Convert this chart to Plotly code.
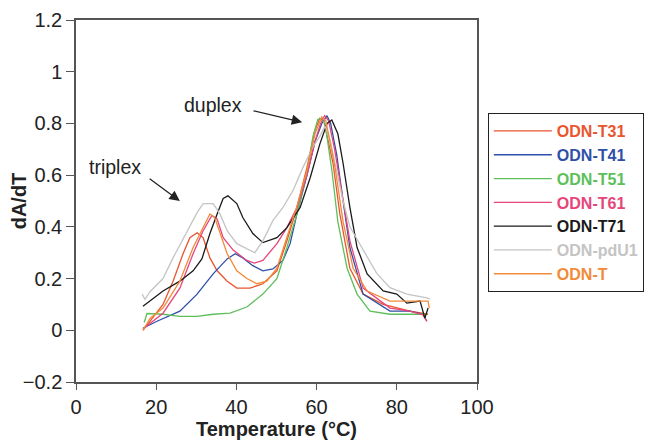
import plotly.graph_objects as go

# Data (temperature in °C, dA/dT)
t31_temp = [16.7, 18.5, 21.7, 24.2, 26.7, 28.4, 30.2, 31.7, 33.4, 35.2, 37.7, 40.1, 43.4, 46.6,
            50.1, 52.6, 55.1, 57.6, 59.6, 60.8, 61.8, 64.1, 65.8, 68.3, 71.6, 76.6, 83.3, 87.8]
t31_val = [0.0, 0.035, 0.1, 0.19, 0.296, 0.358, 0.377, 0.358, 0.28, 0.23, 0.19, 0.163, 0.163, 0.18,
           0.23, 0.346, 0.475, 0.63, 0.775, 0.82, 0.81, 0.646, 0.45, 0.24, 0.14, 0.1, 0.074, 0.062]

t41_temp = [16.7, 20.2, 25.9, 30.2, 34.2, 37.7, 39.7, 41.6, 44.1, 46.6, 49.1, 51.6, 53.4, 55.1,
            57.6, 59.6, 61.3, 62.6, 63.5, 65.0, 66.6, 68.3, 71.6, 78.3, 83.3, 86.5, 87.5]
t41_val = [0.008, 0.035, 0.074, 0.14, 0.218, 0.276, 0.296, 0.28, 0.25, 0.23, 0.237, 0.27, 0.335, 0.45,
           0.6, 0.73, 0.80, 0.83, 0.80, 0.68, 0.5, 0.32, 0.14, 0.074, 0.074, 0.062, 0.035]

t51_temp = [17.0, 17.7, 21.7, 25.9, 30.2, 34.2, 38.4, 42.6, 46.6, 50.1, 52.6, 55.1, 57.6, 59.1,
            60.3, 61.2, 62.1, 63.8, 65.3, 67.6, 70.1, 73.3, 78.3, 85.0, 87.5]
t51_val = [0.03, 0.065, 0.062, 0.054, 0.054, 0.062, 0.066, 0.09, 0.14, 0.2, 0.32, 0.45, 0.61, 0.75,
           0.815, 0.82, 0.80, 0.62, 0.42, 0.24, 0.14, 0.074, 0.062, 0.062, 0.062]

t61_temp = [16.7, 18.5, 21.7, 25.9, 29.2, 31.7, 33.9, 35.2, 36.7, 39.2, 42.6, 44.5, 46.6, 50.1,
            52.6, 55.1, 57.6, 59.6, 61.0, 62.0, 63.0, 64.5, 66.6, 68.3, 71.6, 78.3, 83.3, 86.5, 87.5]
t61_val = [0.005, 0.027, 0.066, 0.163, 0.296, 0.385, 0.444, 0.43, 0.358, 0.31, 0.27, 0.26, 0.27, 0.335,
           0.397, 0.475, 0.6, 0.73, 0.80, 0.83, 0.81, 0.70, 0.5, 0.346, 0.163, 0.086, 0.074, 0.06, 0.035]

t71_temp = [16.7, 21.7, 25.9, 29.2, 31.4, 33.4, 35.2, 36.7, 37.9, 40.1, 41.6, 44.1, 46.6, 50.1,
            52.6, 55.9, 58.4, 60.8, 62.6, 63.8, 65.3, 66.6, 68.3, 70.1, 72.6, 76.6, 80.0, 82.5, 85.8,
            87.0, 87.8]
t71_val = [0.093, 0.152, 0.19, 0.23, 0.276, 0.374, 0.45, 0.51, 0.52, 0.49, 0.436, 0.374, 0.339, 0.358,
           0.397, 0.475, 0.59, 0.72, 0.80, 0.813, 0.76, 0.646, 0.475, 0.32, 0.218, 0.152, 0.14, 0.105,
           0.113, 0.047, 0.086]

pdu1_temp = [16.5, 17.2, 18.5, 21.7, 24.2, 27.7, 30.2, 31.7, 34.2, 35.9, 37.7, 40.1, 43.4, 44.6,
             46.6, 49.1, 51.6, 54.1, 56.6, 59.1, 60.8, 62.1, 63.3, 65.0, 66.6, 68.3, 71.6, 75.0, 78.3,
             82.5, 87.5, 88.3]
pdu1_val = [0.14, 0.12, 0.15, 0.2, 0.28, 0.385, 0.455, 0.49, 0.49, 0.45, 0.385, 0.335, 0.31, 0.30,
            0.346, 0.424, 0.475, 0.54, 0.63, 0.71, 0.75, 0.79, 0.74, 0.62, 0.50, 0.40, 0.31, 0.22, 0.165,
            0.14, 0.125, 0.12]

t_temp = [16.7, 18.5, 21.7, 25.9, 29.2, 31.7, 33.4, 34.6, 35.9, 37.7, 40.1, 42.6, 45.1, 47.6, 50.1,
          52.6, 55.1, 57.6, 59.6, 61.3, 62.3, 64.6, 66.6, 69.1, 72.6, 78.3, 85.0, 87.8, 88.1]
t_val = [0.0, 0.047, 0.086, 0.19, 0.32, 0.40, 0.45, 0.436, 0.374, 0.296, 0.23, 0.2, 0.18, 0.19, 0.24,
         0.358, 0.48, 0.62, 0.76, 0.825, 0.81, 0.63, 0.42, 0.24, 0.152, 0.113, 0.113, 0.113, 0.086]

names = ["ODN-T31", "ODN-T41", "ODN-T51", "ODN-T61", "ODN-T71", "ODN-pdU1", "ODN-T"]
colors = ["#e8552f", "#2f4fa8", "#5cbf5a", "#e6457a", "#1a1a1a", "#c4c4c4", "#f28a3a"]
series = [(t31_temp, t31_val), (t41_temp, t41_val), (t51_temp, t51_val), (t61_temp, t61_val),
          (t71_temp, t71_val), (pdu1_temp, pdu1_val), (t_temp, t_val)]

fig = go.Figure()

for name, color, (xs, ys) in zip(names, colors, series):
    fig.add_trace(go.Scatter(
        x=xs, y=ys, mode="lines", name=f'<b><span style="color:{color}">{name}</span></b>',
        line=dict(color=color, width=1.3)
    ))

# Arrow annotations
fig.add_annotation(x=25.9, y=0.50, ax=18.0, ay=0.59, xref="x", yref="y", axref="x", ayref="y",
                   showarrow=True, arrowhead=2, arrowsize=1.6, arrowwidth=1.3, arrowcolor="#222",
                   text="")
fig.add_annotation(x=9.7, y=0.63, text="triplex", showarrow=False,
                   font=dict(size=19.5, color="#222"))
fig.add_annotation(x=56.4, y=0.805, ax=43.9, ay=0.85, xref="x", yref="y", axref="x", ayref="y",
                   showarrow=True, arrowhead=2, arrowsize=1.6, arrowwidth=1.3, arrowcolor="#222",
                   text="")
fig.add_annotation(x=34.2, y=0.87, text="duplex", showarrow=False,
                   font=dict(size=19.5, color="#222"))

# page body adds an 8px margin, so the figure is smaller than the window
fig.update_layout(
    width=644, height=432,
    margin=dict(l=68, r=175, t=12, b=58, autoexpand=False),
    paper_bgcolor="white", plot_bgcolor="white",
    font=dict(family="Liberation Sans, Arial, sans-serif", size=20, color="#222"),
    legend=dict(
        x=1.027, y=0.743, xanchor="left", yanchor="top",
        bordercolor="#222", borderwidth=1, bgcolor="white",
        font=dict(size=16), itemwidth=58
    ),
)

fig.update_xaxes(
    range=[0, 100], dtick=20, showgrid=False, zeroline=False, automargin=False,
    showline=True, linecolor="#555", linewidth=1.5, mirror=True,
    ticks="outside", ticklen=6, tickcolor="#555",
    title=dict(text="<b>Temperature (°C)</b>", font=dict(size=20), standoff=2)
)
fig.update_yaxes(
    range=[-0.2, 1.2], dtick=0.2, showgrid=False, zeroline=False, automargin=False,
    showline=True, linecolor="#555", linewidth=1.5, mirror=True,
    ticks="outside", ticklen=8, tickcolor="#555",
    title=dict(text="<b>dA/dT</b>", font=dict(size=20), standoff=4)
)

fig.write_html("out.html")
